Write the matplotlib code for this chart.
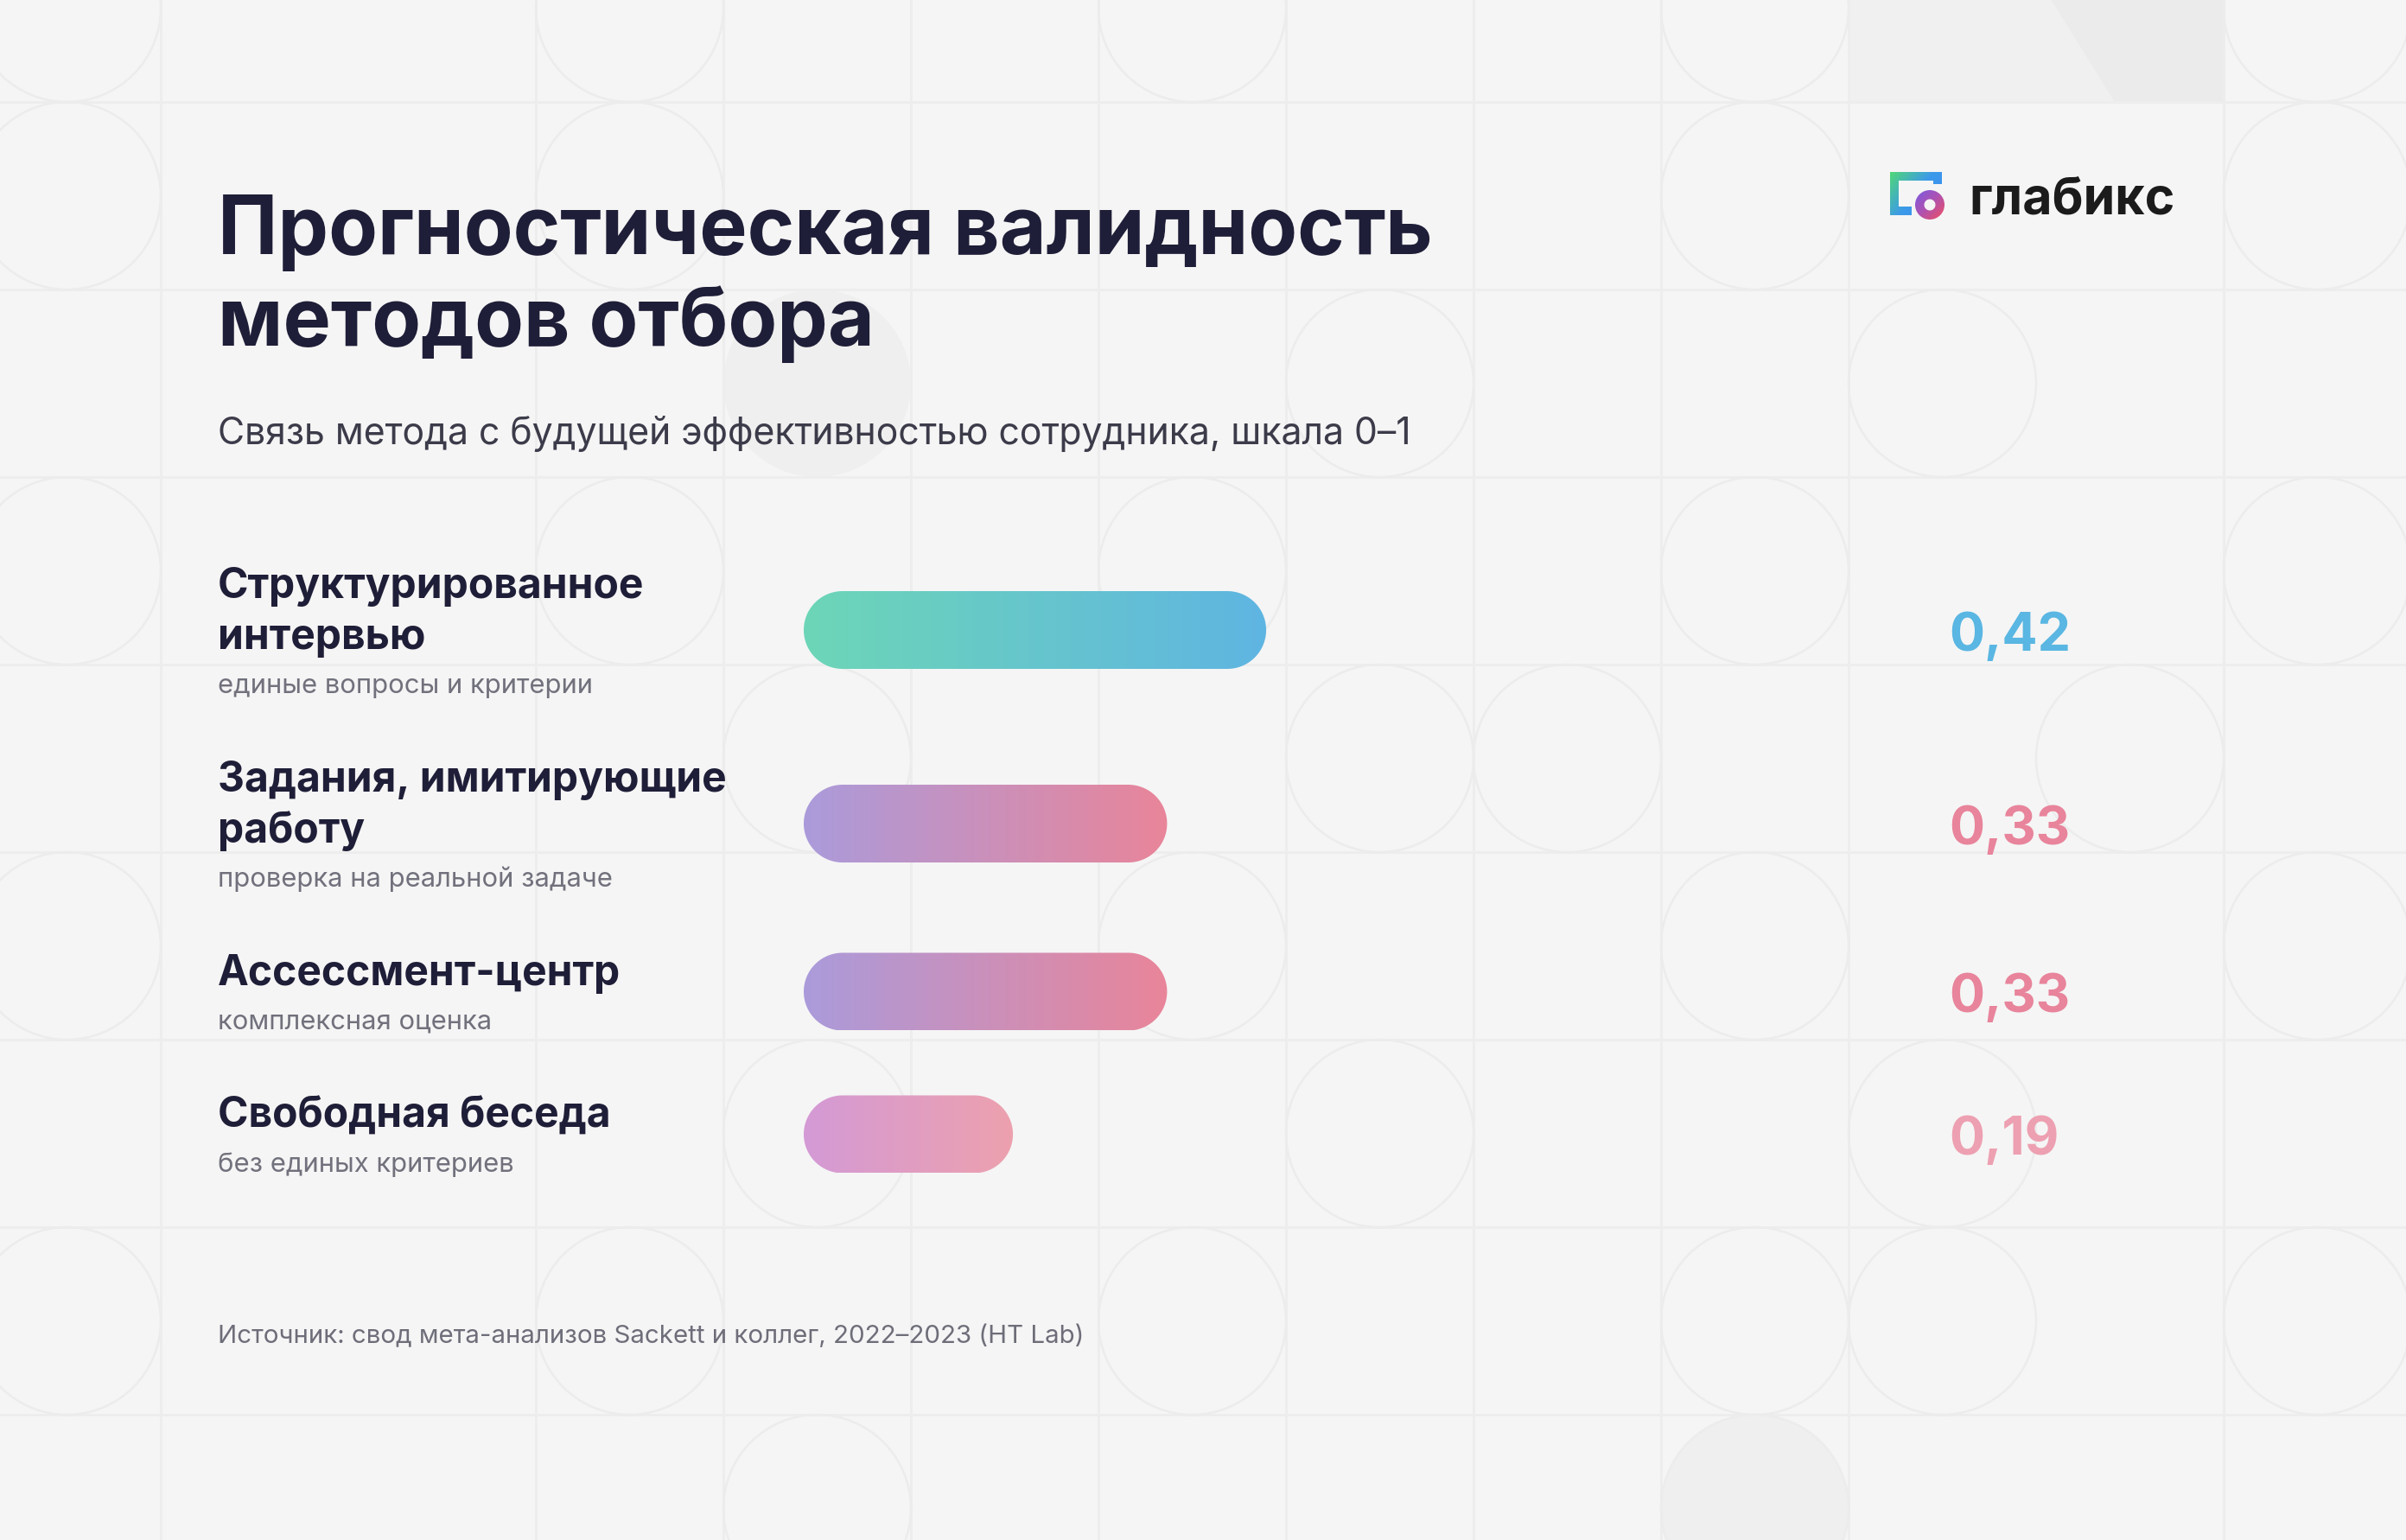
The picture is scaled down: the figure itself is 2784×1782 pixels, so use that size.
import numpy as np
import matplotlib.pyplot as plt
from matplotlib.patches import Circle, Rectangle, Polygon, Wedge
from matplotlib.colors import LinearSegmentedColormap

plt.rcParams['font.family'] = ['Inter', 'DejaVu Sans']

# --- chart data ---
title_lines = ["Прогностическая валидность", "методов отбора"]
subtitle = "Связь метода с будущей эффективностью сотрудника, шкала 0–1"
methods = [["Структурированное", "интервью"],
           ["Задания, имитирующие", "работу"],
           ["Ассессмент-центр"],
           ["Свободная беседа"]]
notes = ["единые вопросы и критерии", "проверка на реальной задаче",
         "комплексная оценка", "без единых критериев"]
validity = [0.42, 0.33, 0.33, 0.19]
value_labels = ["0,42", "0,33", "0,33", "0,19"]
bar_start = ["#6dd6b7", "#ab9bdb", "#ab9bdb", "#d49ad6"]
bar_end = ["#5fb5e2", "#e9859a", "#e9859a", "#eda1ae"]
value_colors = ["#5ab6e2", "#e8849b", "#e8849b", "#eda0b1"]
source = "Источник: свод мета-анализов Sackett и коллег, 2022–2023 (HT Lab)"
brand = "глабикс"

W, H = 2784, 1783
PT = 0.72  # points per pixel at dpi=100
BG = '#f5f5f5'
DARK = '#1f1e38'

fig = plt.figure(figsize=(W / 100, H / 100), dpi=100)
fig.patch.set_facecolor(BG)

# pixel-space axes for background, texts and logo
bg = fig.add_axes([0, 0, 1, 1])
bg.set_xlim(0, W)
bg.set_ylim(H, 0)
bg.axis('off')

# decorative background: faint grid with circles
cell = 217
gx0, gy0 = -31, -98
line_col = '#ededed'
bg.add_patch(Rectangle((gx0 + cell * 10, 0), cell * 2, gy0 + cell, color='#f0f0f0', lw=0, zorder=0))
bg.add_patch(Polygon([(2373, 0), (gx0 + cell * 12, 0), (gx0 + cell * 12, gy0 + cell), (2447, gy0 + cell)],
                     closed=True, color='#ebebeb', lw=0, zorder=0))
for c, r in [(4, 2), (9, 8)]:
    bg.add_patch(Circle((gx0 + cell * (c + 0.5), gy0 + cell * (r + 0.5)), cell / 2,
                        color='#efefef', lw=0, zorder=0))
for k in range(15):
    if k in (2, 11):
        continue
    x = gx0 + cell * k
    bg.plot([x, x], [0, H], color=line_col, lw=3 * PT, zorder=0.5)
for r in range(10):
    y = gy0 + cell * r
    bg.plot([0, W], [y, y], color=line_col, lw=3 * PT, zorder=0.5)
circle_cells = [(0, 0), (3, 0), (6, 0), (9, 0), (12, 0), (0, 1), (3, 1), (9, 1), (12, 1),
                (7, 2), (10, 2), (0, 3), (3, 3), (6, 3), (9, 3), (12, 3), (4, 4), (7, 4),
                (8, 4), (11, 4), (0, 5), (6, 5), (9, 5), (12, 5), (4, 6), (7, 6), (10, 6),
                (0, 7), (3, 7), (6, 7), (9, 7), (10, 7), (12, 7), (4, 8), (9, 8)]
for c, r in circle_cells:
    bg.add_patch(Circle((gx0 + cell * (c + 0.5), gy0 + cell * (r + 0.5)), cell / 2,
                        fill=False, ec='#ececec', lw=2.5 * PT, zorder=0.6))

# title and subtitle
for i, line in enumerate(title_lines):
    bg.text(252, 294 + 106 * i, line, fontsize=93 * PT, fontweight='bold', color=DARK, va='baseline')
bg.text(252, 514, subtitle, fontsize=42.8 * PT, color='#3b3b4a', va='baseline')

# logo
sq = Polygon([(2187, 200), (2247, 200), (2247, 214), (2237, 214), (2237, 210), (2197, 210),
              (2197, 240), (2212, 240), (2212, 250), (2187, 250)], closed=True, fc='none', ec='none')
bg.add_patch(sq)
gx, gy = np.meshgrid(np.linspace(0, 1, 64), np.linspace(0, 1, 64))
sq_cmap = LinearSegmentedColormap.from_list('sq', ['#4fd777', '#3d9ae9', '#3a8cf2'])
bg.imshow((gx * 0.6 + gy * 0.4), cmap=sq_cmap, extent=(2187, 2247, 250, 200), aspect='auto',
          clip_path=sq, zorder=3, interpolation='bilinear')
ring = Wedge((2233, 238), 17, 0, 360, width=10.5, fc='none', ec='none')
bg.add_patch(ring)
ring_cmap = LinearSegmentedColormap.from_list('ring', ['#7a5ae2', '#b052b0', '#ef4f62'])
bg.imshow((gx + gy) / 2, cmap=ring_cmap, extent=(2216, 2250, 255, 221), aspect='auto',
          clip_path=ring, zorder=3, interpolation='bilinear')
bg.text(2278, 247, brand, fontsize=59 * PT, fontweight='bold', color='#1b1b1b', va='baseline')

# bar axes: x is the validity scale 0..1, y is in pixels
x0_px, scale_px = 930, 1274
ax = fig.add_axes([x0_px / W, 0, scale_px / W, 1])
ax.patch.set_alpha(0)


def pill_outline(v, center, half_h):
    # semicircular caps: radius half_h pixels, converted to scale units along x
    rx = half_h / scale_px
    t = np.linspace(-np.pi / 2, np.pi / 2, 60)
    right = np.column_stack([v - rx + rx * np.cos(t), center + half_h * np.sin(t)])
    left = np.column_stack([rx - rx * np.cos(t), center - half_h * np.sin(t)])
    return np.vstack([right, left])


bar_h = 90
top = 659
grad = np.linspace(0, 1, 256)[None, :]
for i in range(len(validity)):
    n = len(methods[i])
    for j, line in enumerate(methods[i]):
        bg.text(252, top + 33 + 59 * j, line, fontsize=48 * PT, fontweight='bold', color=DARK, va='baseline')
    bg.text(252, top + 25 + 59 * n, notes[i], fontsize=31 * PT, color='#71717d', va='baseline')
    center = top + 12 + 29.5 * n

    v = validity[i]
    pill = Polygon(pill_outline(v, center, bar_h / 2), closed=True, fc='none', ec='none')
    ax.add_patch(pill)
    cmap = LinearSegmentedColormap.from_list(f'b{i}', [bar_start[i], bar_end[i]])
    ax.imshow(grad, cmap=cmap, extent=(0, v, center + bar_h / 2, center - bar_h / 2),
              aspect='auto', clip_path=pill, zorder=2, interpolation='bilinear')

    bg.text(2255, center + 23, value_labels[i], fontsize=61 * PT, fontweight='bold',
            color=value_colors[i], va='baseline')
    top += 59 * n + 106

ax.set_xlim(0, 1)
ax.set_ylim(H, 0)
ax.axis('off')

bg.text(252, 1554, source, fontsize=29.5 * PT, color='#6e6e7a', va='baseline')

fig.savefig('out.png', dpi=100, facecolor=BG)
